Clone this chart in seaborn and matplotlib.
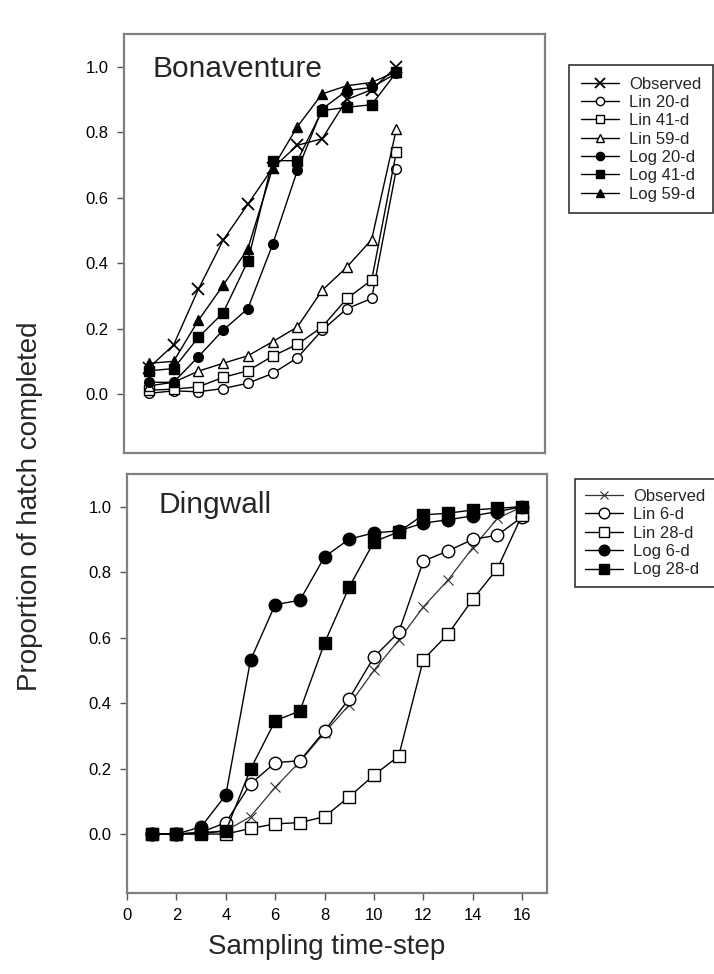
import numpy as np
import pandas as pd
import matplotlib
matplotlib.use("Agg")
import matplotlib.pyplot as plt
import seaborn as sns

sns.set_theme(style="ticks")
plt.rcParams['font.family'] = ['Liberation Sans', 'DejaVu Sans']

# ---------------- data ----------------
steps_top = list(range(1, 12))
bon_observed = [0.08, 0.15, 0.32, 0.47, 0.58, 0.69, 0.76, 0.78, 0.90, 0.93, 1.00]
bon_lin20 = [0.002, 0.01, 0.007, 0.017, 0.033, 0.063, 0.111, 0.195, 0.261, 0.292, 0.688]
bon_lin41 = [0.012, 0.015, 0.022, 0.051, 0.071, 0.116, 0.152, 0.205, 0.292, 0.348, 0.741]
bon_lin59 = [0.025, 0.036, 0.070, 0.094, 0.117, 0.160, 0.205, 0.317, 0.388, 0.472, 0.810]
bon_log20 = [0.036, 0.036, 0.114, 0.195, 0.261, 0.457, 0.683, 0.871, 0.927, 0.937, 0.980]
bon_log41 = [0.071, 0.078, 0.173, 0.248, 0.406, 0.713, 0.713, 0.866, 0.876, 0.884, 0.983]
bon_log59 = [0.094, 0.100, 0.225, 0.332, 0.444, 0.690, 0.817, 0.917, 0.942, 0.952, 0.985]

steps_bot = list(range(1, 17))
din_observed = [0.0, 0.0, 0.005, 0.01, 0.053, 0.143, 0.221, 0.31, 0.395, 0.50, 0.592, 0.694, 0.776, 0.875, 0.964, 1.0]
din_lin6 = [0.0, 0.0, 0.005, 0.035, 0.153, 0.218, 0.224, 0.315, 0.414, 0.541, 0.616, 0.834, 0.865, 0.900, 0.913, 0.969]
din_lin28 = [0.0, 0.0, 0.0, 0.0, 0.017, 0.031, 0.035, 0.053, 0.114, 0.180, 0.238, 0.533, 0.611, 0.717, 0.811, 0.975]
din_log6 = [0.0, 0.0, 0.022, 0.119, 0.531, 0.701, 0.714, 0.847, 0.901, 0.920, 0.926, 0.950, 0.960, 0.972, 0.985, 1.0]
din_log28 = [0.0, 0.0, 0.002, 0.009, 0.198, 0.346, 0.376, 0.584, 0.755, 0.893, 0.923, 0.975, 0.980, 0.990, 0.995, 1.0]

top_labels = ["Observed", "Lin 20-d", "Lin 41-d", "Lin 59-d", "Log 20-d", "Log 41-d", "Log 59-d"]
bot_labels = ["Observed", "Lin 6-d", "Lin 28-d", "Log 6-d", "Log 28-d"]
y_ticks = [0.0, 0.2, 0.4, 0.6, 0.8, 1.0]
x_ticks = [0, 2, 4, 6, 8, 10, 12, 14, 16]

# ---------------- figure ----------------
fig = plt.figure(figsize=(7.14, 9.74), dpi=100)
ax1 = fig.add_axes([0.1737, 0.5349, 0.5896, 0.4302])
ax2 = fig.add_axes([0.1779, 0.0832, 0.5880, 0.4302])

def draw(ax, x, y, label, marker, face, ms, mew=1.0, lw=1.0, color="black"):
    sns.lineplot(x=x, y=y, ax=ax, color=color, lw=lw, marker=marker, markersize=ms,
                 markerfacecolor=face, markeredgecolor="black" if marker != "x" else color,
                 markeredgewidth=mew, label=label)

top_series = [bon_observed, bon_lin20, bon_lin41, bon_lin59, bon_log20, bon_log41, bon_log59]
top_styles = [("x", "black", 8, 1.3), ("o", "white", 7, 1.0), ("s", "white", 6.5, 1.0),
              ("^", "white", 7, 1.0), ("o", "black", 7, 1.0), ("s", "black", 6.5, 1.0),
              ("^", "black", 7, 1.0)]
for ser, lab, (m, f, ms, mew) in zip(top_series, top_labels, top_styles):
    draw(ax1, steps_top, ser, lab, m, f, ms, mew)

bot_series = [din_observed, din_lin6, din_lin28, din_log6, din_log28]
bot_styles = [("x", "#555555", 7, 0.8), ("o", "white", 9, 1.0), ("s", "white", 8.5, 1.0),
              ("o", "black", 9, 1.0), ("s", "black", 8.5, 1.0)]
for ser, lab, (m, f, ms, mew) in zip(bot_series, bot_labels, bot_styles):
    draw(ax2, steps_bot, ser, lab, m, f, ms, mew,
         lw=0.9 if m == "x" else 1.0, color="#333333" if m == "x" else "black")

for ax in (ax1, ax2):
    ax.set_xlim(0, 17)
    ax.set_ylim(-0.18, 1.1)
    ax.set_yticks(y_ticks)
    ax.set_yticklabels([f"{v:.1f}" for v in y_ticks])
    for s in ax.spines.values():
        s.set_visible(True)
        s.set_color("#808080")
        s.set_linewidth(1.6)
    ax.tick_params(axis="y", direction="out", length=5, width=1, color="#555555",
                   labelsize=12, pad=6, labelcolor="black")
    ax.set_xlabel("")
    ax.set_ylabel("")

ax1.set_xticks([])
ax2.set_xticks(x_ticks)
ax2.set_xticklabels([str(v) for v in x_ticks])
ax2.tick_params(axis="x", direction="out", length=5, width=1, color="#555555",
                labelsize=12, pad=6, labelcolor="black")

ax1.text(0.0665, 0.897, "Bonaventure", transform=ax1.transAxes, fontsize=21.5,
         ha="left", va="baseline")
ax2.text(0.074, 0.907, "Dingwall", transform=ax2.transAxes, fontsize=21.5,
         ha="left", va="baseline")

leg_kw = dict(frameon=True, fancybox=False, edgecolor="black", fontsize=12,
              handlelength=2.3, handletextpad=0.6, borderpad=0.7, labelspacing=0.2,
              loc="upper left", borderaxespad=0, markerscale=0.85)
l1 = ax1.legend(bbox_to_anchor=(569 / 714, 1 - 65 / 974), bbox_transform=fig.transFigure, **leg_kw)
l2 = ax2.legend(bbox_to_anchor=(575 / 714, 1 - 479 / 974), bbox_transform=fig.transFigure,
                **{**leg_kw, "borderpad": 0.6})
for l in (l1, l2):
    l.get_frame().set_linewidth(1.2)

fig.text(0.042, 0.48, "Proportion of hatch completed", rotation=90, fontsize=20,
         ha="center", va="center")
fig.text(0.458, 0.028, "Sampling time-step", fontsize=20, ha="center", va="center")

fig.savefig("out.png", dpi=100, facecolor="white")
